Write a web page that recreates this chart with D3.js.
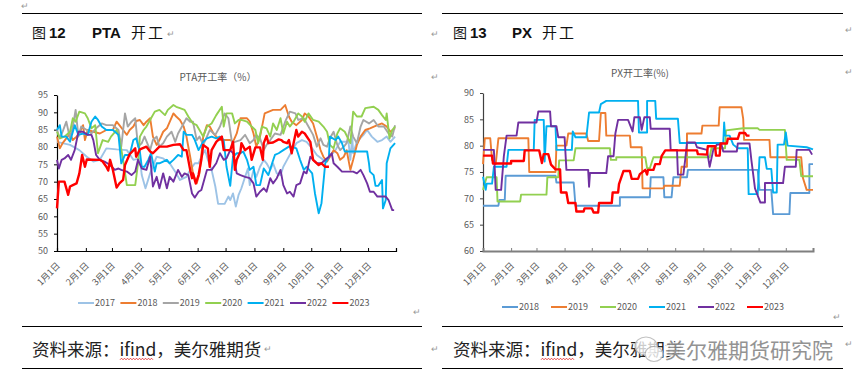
<!DOCTYPE html>
<html><head><meta charset="utf-8">
<script src="https://cdn.jsdelivr.net/npm/d3@7"></script>
<style>
body{margin:0;background:#fff}
svg{display:block}
text{font-family:"Noto Sans CJK SC","Liberation Sans",sans-serif}
</style></head><body>
<script>
// ── Data ─────────────────────────────────────────────────────────────────────
// x = day of year (0 = 1月1日), y = operating rate %
const monthStarts = [0,31,59,90,120,151,181,212,243,273,304,334];
const monthLabels = ['1月1日','2月1日','3月1日','4月1日','5月1日','6月1日','7月1日','8月1日','9月1日','10月1日','11月1日','12月1日'];

const pta2017 = [[0,81.5],[14,80.6],[24,79.1],[32,77.2],[39,75.8],[46,76.3],[53,79.6],[64,79.3],[75,79.1],[82,76.3],[89,76.7],[91,71.9],[95,68.1],[100,72.4],[107,77.2],[114,76.7],[121,75.3],[128,72.4],[132,70.5],[139,71.4],[143,73.4],[148,75.3],[152,75.3],[155,77.2],[159,79.1],[162,76.3],[166,73.4],[170,68.6],[173,63.6],[180,63.6],[184,65.7],[186,64.7],[189,66.6],[192,62.8],[195,66.2],[198,68.1],[202,71.4],[205,73.8],[207,69.0],[211,73.4],[214,71.4],[218,74.3],[222,76.3],[225,75.3],[229,73.4],[232,75.3],[236,72.4],[240,71.9],[243,74.3],[247,76.3],[252,78.7],[257,81.1],[263,82.0],[268,81.5],[274,79.6],[279,77.7],[284,76.7],[288,75.8],[293,77.2],[299,79.1],[304,81.5],[313,81.5],[315,76.3],[317,83.0],[318,78.2],[322,81.5],[329,83.5],[333,84.9],[338,83.0],[344,81.5],[349,82.0],[354,83.0],[358,81.5],[363,83.0]];
const pta2018 = [[0,83.0],[3,79.6],[6,81.1],[10,82.5],[14,83.9],[17,82.0],[21,83.0],[24,83.9],[28,86.3],[30,82.0],[33,84.9],[39,84.4],[46,83.9],[53,84.9],[60,84.9],[64,87.3],[67,86.3],[71,84.9],[75,83.5],[78,84.9],[82,85.9],[85,87.5],[89,87.8],[93,86.3],[96,87.3],[100,88.3],[103,83.0],[107,80.6],[110,82.0],[114,84.4],[118,85.4],[125,89.7],[128,88.8],[132,87.8],[136,85.9],[139,83.0],[143,77.2],[146,72.4],[150,69.5],[153,72.4],[157,83.0],[161,86.3],[164,85.9],[168,83.9],[171,83.0],[175,82.0],[180,82.0],[186,82.0],[189,81.5],[193,83.9],[197,88.3],[204,88.3],[207,87.3],[211,83.9],[214,80.1],[218,83.0],[223,89.7],[232,90.7],[240,90.7],[245,92.1],[249,88.8],[252,87.3],[257,86.3],[263,87.8],[266,89.7],[270,88.8],[275,86.8],[279,83.0],[283,79.1],[286,77.2],[290,75.8],[293,77.2],[297,79.1],[301,78.2],[304,76.3],[308,77.2],[311,79.1],[315,73.4],[318,76.3],[322,80.6],[326,83.0],[331,84.9],[336,85.4],[344,86.3],[349,86.8],[354,85.9],[358,84.4],[363,85.4]];
const pta2019 = [[0,84.9],[3,82.5],[6,84.4],[10,87.3],[14,82.5],[17,85.9],[20,90.7],[23,83.0],[26,85.9],[32,84.9],[37,83.9],[42,85.4],[48,86.8],[53,86.3],[60,86.3],[66,84.9],[69,80.1],[73,89.7],[76,85.9],[80,87.3],[84,88.3],[87,80.1],[91,81.1],[94,83.0],[100,79.1],[103,82.0],[107,83.0],[110,80.1],[114,81.1],[118,83.0],[123,84.4],[127,81.5],[130,83.9],[136,86.8],[139,88.3],[143,87.3],[146,87.3],[150,82.0],[153,83.0],[157,80.6],[161,83.0],[164,84.9],[170,83.5],[175,85.9],[180,89.7],[184,88.3],[188,81.1],[191,81.5],[197,82.0],[202,83.5],[207,81.1],[211,82.0],[214,83.5],[218,82.5],[222,79.1],[225,80.6],[229,82.0],[234,83.9],[240,83.5],[245,87.3],[250,90.2],[256,89.7],[259,87.8],[265,88.3],[270,85.9],[275,83.5],[279,80.1],[283,82.5],[286,80.6],[290,80.1],[293,82.5],[297,84.4],[301,80.6],[304,79.1],[308,80.1],[311,81.1],[315,85.9],[318,83.0],[322,81.1],[326,85.9],[329,87.8],[335,86.8],[340,87.8],[345,85.9],[351,85.9],[356,83.9],[360,83.0],[363,86.3]];
const pta2020 = [[0,84.4],[3,82.5],[8,83.0],[14,84.4],[17,88.3],[20,87.3],[24,90.2],[30,89.7],[33,88.3],[37,85.4],[41,86.3],[44,78.2],[49,82.0],[55,81.5],[58,83.0],[64,84.9],[67,82.5],[71,76.3],[75,69.0],[84,69.0],[87,75.3],[89,83.0],[93,84.9],[96,85.9],[101,88.3],[105,90.2],[110,90.7],[116,89.2],[119,90.7],[125,92.1],[128,91.6],[132,91.2],[137,90.7],[141,88.8],[146,86.8],[150,86.3],[153,84.9],[157,83.0],[161,85.9],[166,86.8],[171,89.2],[177,91.6],[179,85.9],[182,89.7],[188,89.7],[191,86.8],[195,87.8],[198,87.8],[204,87.3],[209,85.9],[213,84.9],[216,81.1],[220,85.9],[225,85.4],[229,83.0],[232,86.8],[236,84.9],[240,88.3],[243,83.9],[247,87.3],[250,85.9],[254,87.3],[259,89.7],[263,88.8],[266,87.3],[270,89.7],[275,87.8],[281,87.3],[286,85.9],[290,84.4],[293,80.6],[297,79.6],[301,83.9],[304,85.4],[309,84.4],[315,81.1],[318,90.2],[322,88.8],[327,88.8],[331,91.2],[340,91.6],[345,90.7],[349,89.2],[353,87.8],[354,89.7],[357,82.5],[360,84.9],[363,85.9]];
const pta2021 = [[0,84.9],[3,86.3],[5,83.0],[10,83.0],[14,81.5],[19,86.3],[23,83.5],[28,83.9],[33,83.5],[37,87.3],[41,88.8],[44,87.8],[48,85.9],[53,84.9],[60,84.9],[66,83.5],[69,75.3],[73,77.7],[78,77.7],[82,82.0],[85,82.5],[89,78.7],[91,74.3],[94,74.3],[98,76.3],[101,78.2],[105,72.9],[107,75.3],[110,75.3],[118,76.3],[121,75.3],[125,76.3],[130,77.7],[134,77.2],[136,84.4],[139,83.5],[145,83.5],[148,82.0],[152,79.1],[157,81.5],[161,82.5],[166,83.0],[171,82.5],[175,83.0],[179,82.0],[182,74.3],[186,68.8],[189,77.2],[193,78.2],[197,78.2],[200,78.7],[204,76.3],[207,73.4],[211,74.3],[214,69.0],[218,69.0],[222,73.8],[227,71.9],[231,75.3],[234,77.7],[238,78.2],[243,79.1],[249,80.1],[252,80.1],[257,79.6],[261,76.3],[265,73.4],[268,74.3],[274,72.4],[277,66.6],[281,60.9],[284,63.8],[288,75.3],[292,77.2],[293,83.0],[299,82.0],[302,83.0],[306,81.1],[309,78.7],[315,78.7],[333,78.7],[335,75.3],[336,72.9],[340,71.9],[342,68.8],[345,68.8],[349,70.5],[350,62.3],[353,64.7],[354,75.3],[358,79.6],[363,81.1]];
const pta2022 = [[0,76.3],[2,73.8],[5,76.3],[8,76.7],[12,77.7],[15,76.3],[19,79.1],[23,84.4],[28,84.4],[33,83.5],[37,83.5],[39,82.0],[42,77.7],[46,76.3],[51,75.8],[57,74.8],[62,73.4],[66,73.8],[69,73.4],[75,72.9],[80,71.9],[84,72.9],[87,76.3],[91,73.8],[96,73.4],[100,77.2],[103,68.6],[107,71.4],[110,68.1],[114,72.4],[118,68.1],[121,71.4],[125,70.0],[130,73.4],[134,71.4],[137,72.4],[141,71.9],[145,66.6],[148,65.4],[152,67.1],[155,67.6],[161,73.4],[166,73.4],[171,75.3],[175,78.2],[179,76.3],[182,76.7],[186,79.1],[189,78.2],[193,72.4],[197,71.9],[202,71.4],[207,71.0],[211,69.5],[214,65.7],[218,67.1],[222,68.1],[225,67.1],[229,71.0],[232,69.5],[236,71.0],[240,73.4],[243,69.0],[247,66.6],[250,67.1],[254,65.7],[257,69.0],[261,69.5],[265,72.9],[268,72.4],[272,77.2],[275,76.3],[279,75.3],[284,75.3],[288,76.3],[292,77.2],[295,78.2],[297,75.3],[301,74.3],[306,72.9],[313,72.9],[318,72.9],[322,72.4],[326,73.4],[329,71.9],[333,69.5],[336,67.1],[340,67.1],[344,65.7],[347,65.7],[353,65.7],[356,64.7],[360,61.8],[362,61.8]];
const pta2023 = [[0,62.3],[2,70.0],[8,70.0],[12,66.2],[14,68.6],[17,69.0],[21,69.5],[24,72.4],[27,77.7],[30,74.3],[32,76.4],[46,76.3],[49,75.8],[53,74.3],[55,73.2],[57,76.3],[60,73.4],[64,68.3],[67,69.5],[71,70.5],[73,74.8],[78,77.9],[84,79.6],[85,77.2],[89,79.3],[96,80.1],[100,78.7],[103,78.2],[110,80.1],[118,80.1],[125,80.6],[132,80.8],[136,79.1],[139,79.1],[143,73.4],[145,71.0],[146,72.4],[149,69.5],[152,71.9],[155,76.3],[157,80.6],[162,79.6],[164,74.3],[166,79.1],[171,81.5],[177,83.0],[179,79.1],[186,79.1],[189,81.5],[191,73.4],[193,76.3],[197,78.7],[198,81.1],[202,79.1],[207,80.1],[209,76.3],[213,79.9],[218,79.9],[221,76.3],[222,81.1],[225,83.2],[227,81.1],[232,81.3],[238,82.2],[241,82.0],[243,81.5],[247,81.1],[249,82.0],[252,78.2],[254,81.1],[257,84.9],[259,83.0],[263,84.4],[266,83.9],[272,81.5],[275,76.3],[281,74.8],[284,75.3],[288,74.3],[292,74.3]];

const px2018 = [[0,68.6],[17,68.6],[18,69.7],[24,69.7],[25,74.3],[80,74.3],[81,73.0],[100,73.0],[102,68.6],[151,68.6],[151,70.2],[184,70.2],[185,74.0],[199,74.0],[200,70.2],[208,70.2],[210,74.0],[225,74.0],[226,75.4],[303,75.4],[305,71.6],[318,71.6],[320,67.0],[338,67.0],[339,71.0],[360,71.0],[360,76.5],[364,76.5]];
const px2019 = [[0,76.5],[2,81.4],[8,81.4],[10,77.3],[14,76.5],[17,81.4],[50,81.4],[51,75.0],[80,75.0],[81,80.0],[92,80.0],[94,82.3],[114,82.3],[116,80.9],[128,80.9],[130,86.2],[135,86.2],[136,81.9],[162,81.9],[163,79.7],[175,79.7],[176,71.9],[199,71.9],[200,72.4],[217,72.4],[219,76.0],[225,76.0],[225,82.3],[241,82.3],[242,83.8],[260,83.8],[261,87.3],[285,87.3],[287,85.1],[288,81.1],[316,81.1],[317,77.8],[351,77.8],[353,73.8],[357,71.6],[364,71.6]];
const px2020 = [[0,71.6],[4,74.0],[15,74.0],[16,69.4],[41,69.4],[42,70.7],[70,70.7],[71,74.0],[83,74.0],[84,77.2],[100,77.2],[102,79.5],[140,79.5],[141,77.3],[147,77.3],[147,77.8],[179,77.8],[181,75.7],[184,75.7],[188,77.8],[250,77.8],[252,79.5],[267,79.5],[268,82.9],[287,83.3],[303,83.3],[305,83.0],[333,83.0],[335,77.3],[349,77.3],[351,74.2],[364,74.2]];
const px2021 = [[0,74.1],[3,71.6],[4,72.8],[10,72.8],[12,76.0],[26,76.0],[28,79.2],[56,79.2],[57,84.9],[67,84.9],[68,77.0],[70,83.7],[80,83.7],[81,79.2],[98,79.2],[99,82.7],[102,81.6],[114,81.6],[117,86.3],[128,86.3],[130,87.9],[136,88.5],[171,88.5],[172,82.5],[181,82.5],[181,88.5],[190,88.5],[191,85.1],[215,85.1],[217,80.5],[265,80.5],[266,84.4],[267,81.9],[272,81.9],[276,80.2],[281,79.5],[292,79.5],[293,70.8],[303,70.8],[305,77.8],[311,77.8],[313,75.6],[318,75.6],[320,71.1],[324,71.1],[325,80.2],[332,80.2],[334,82.5],[336,80.0],[357,79.7],[364,79.3]];
const px2022 = [[0,79.2],[12,79.2],[14,71.6],[20,71.6],[23,78.0],[26,81.9],[37,81.9],[39,84.4],[59,84.4],[61,86.5],[74,86.5],[75,83.7],[81,83.7],[83,81.6],[90,81.6],[92,75.4],[116,75.4],[117,72.2],[118,74.8],[136,74.8],[138,78.0],[144,78.0],[146,82.3],[149,84.9],[160,84.9],[165,82.7],[167,85.4],[173,85.4],[175,83.0],[178,85.4],[184,85.4],[185,83.2],[206,83.2],[207,79.2],[214,79.2],[215,74.5],[221,74.5],[223,77.3],[225,80.6],[234,80.6],[236,79.7],[247,79.2],[250,76.0],[254,79.2],[258,80.2],[263,80.2],[265,78.9],[280,78.9],[281,80.4],[294,80.4],[296,77.3],[300,71.9],[306,69.2],[311,69.2],[311,72.9],[331,72.9],[333,76.0],[345,76.0],[346,79.2],[360,79.2],[363,78.3]];
const px2023 = [[0,78.1],[10,78.1],[11,76.6],[31,76.6],[31,77.1],[45,77.1],[46,79.1],[62,79.1],[65,76.7],[67,78.4],[72,78.4],[75,76.4],[80,75.5],[85,75.5],[86,71.1],[92,71.1],[94,69.1],[102,69.1],[103,67.5],[111,67.5],[112,68.1],[120,68.1],[122,67.3],[127,67.3],[128,69.1],[142,69.1],[143,71.1],[149,71.1],[150,72.7],[155,75.2],[162,75.2],[164,73.7],[171,73.7],[173,74.6],[179,75.4],[181,74.5],[182,75.4],[188,75.4],[190,76.5],[195,76.5],[197,78.0],[201,79.1],[236,79.1],[237,78.4],[247,78.3],[248,79.9],[256,79.9],[257,78.1],[261,78.1],[262,80.4],[269,80.4],[270,81.3],[281,81.3],[283,82.4],[289,82.4],[291,81.9],[294,81.9]];

const ptaYears = ['2017','2018','2019','2020','2021','2022','2023'];
const pxYears  = ['2018','2019','2020','2021','2022','2023'];
const ptaTicks = [50,55,60,65,70,75,80,85,90,95];
const pxTicks  = [60,65,70,75,80,85,90];

// ── Colours ──────────────────────────────────────────────────────────────────
const PTA_COLORS = ['#9DC3E6','#ED7D31','#A5A5A5','#92D050','#00B0F0','#7030A0','#FF0000'];
const PX_COLORS  = ['#5B9BD5','#ED7D31','#92D050','#00B0F0','#7030A0','#FF0000'];
const LABEL_GRAY = '#595959';

const svg = d3.select('body').append('svg').attr('width', 863).attr('height', 388);

// ── Page frame (document lines, captions, paragraph marks) ───────────────────
function hline(x1, x2, y) {
  svg.append('line').attr('x1', x1).attr('x2', x2).attr('y1', y).attr('y2', y)
    .attr('stroke', '#000').attr('stroke-width', 1);
}
[[22, 422], [442, 843]].forEach(([a, b]) => { hline(a, b, 13.5); hline(a, b, 55.5); hline(a, b, 326.5); hline(a, b, 368.5); });

function mark(x, y) {
  svg.append('text').attr('x', x).attr('y', y).attr('font-size', 9).attr('fill', '#999')
    .attr('font-family', 'DejaVu Sans').text('\u21B5');
}

// caption pieces placed where the reference has them
function caption(x, num, name, nameDx, kaiDx) {
  const t = svg.append('text').attr('y', 38).attr('font-size', 15).attr('fill', '#111');
  t.append('tspan').attr('x', x).attr('font-size', 14).text('图');
  t.append('tspan').attr('x', x + 17).attr('font-family', 'Liberation Sans').attr('font-weight', 'bold').text(num);
  t.append('tspan').attr('x', x + nameDx).attr('font-family', 'Liberation Sans').attr('font-weight', 'bold').text(name);
  t.append('tspan').attr('x', x + kaiDx).attr('letter-spacing', 2).text('开工');
}
caption(32, '12', 'PTA', 60, 99);
caption(453, '13', 'PX', 59, 89);
mark(21, 9); mark(167, 37); mark(431, 37); mark(845, 33);
mark(431, 80); mark(845, 75); mark(413, 315); mark(833, 320);

function source(x) {
  svg.append('text').attr('x', x).attr('y', 356).attr('font-size', 17.5).attr('fill', '#222')
    .text('资料来源：ifind，美尔雅期货');
  // red spell-check squiggle under "ifind"
  const x0 = x + 88, x1 = x + 122;
  const pts = d3.range(x0, x1 + 0.1, 1.5).map((px, i) => [px, 359 + (i % 2 ? -0.8 : 0.8)]);
  svg.append('path').attr('d', d3.line()(pts)).attr('fill', 'none').attr('stroke', '#e02020').attr('stroke-width', 0.8);
}
source(32);
source(453);
mark(264, 352); mark(431, 352); mark(845, 347);

// WeChat watermark over the right source line
const wm = svg.append('g').attr('opacity', 0.9);
wm.append('ellipse').attr('cx', 646).attr('cy', 346).attr('rx', 11).attr('ry', 9)
  .attr('fill', 'rgba(255,255,255,0.85)').attr('stroke', '#bbb').attr('stroke-width', 1.2);
wm.append('ellipse').attr('cx', 654).attr('cy', 354).attr('rx', 9).attr('ry', 7.5)
  .attr('fill', 'rgba(255,255,255,0.9)').attr('stroke', '#bbb').attr('stroke-width', 1.2);
wm.append('text').attr('x', 665).attr('y', 358).attr('font-size', 21).attr('fill', '#888')
  .attr('stroke', '#fff').attr('stroke-width', 2.5).attr('paint-order', 'stroke').text('美尔雅期货研究院');

// ── Chart builder ────────────────────────────────────────────────────────────
function drawChart(cfg) {
  const g = svg.append('g');
  const x = d3.scaleLinear().domain([0, 364]).range([cfg.left, cfg.right]);
  const y = d3.scaleLinear().domain(cfg.yDomain).range([cfg.bottom, cfg.top]);

  g.append('text').attr('x', cfg.titleX).attr('y', cfg.titleY).attr('text-anchor', 'middle')
    .attr('font-size', 10).attr('fill', LABEL_GRAY).text(cfg.title);

  // y axis
  const ya = g.append('g').attr('transform', `translate(${cfg.left},0)`)
    .call(d3.axisLeft(y).tickValues(cfg.yTicks).tickSize(3).tickSizeOuter(0).tickPadding(6));
  ya.select('.domain').attr('stroke', cfg.yAxisColor).attr('stroke-width', 1.2);
  ya.selectAll('line').attr('stroke', cfg.yAxisColor);
  ya.selectAll('text').attr('font-size', 9).attr('fill', LABEL_GRAY)
    .attr('font-family', '"Noto Sans CJK SC", sans-serif');

  // series
  const line = d3.line().x(d => x(d[0])).y(d => y(d[1]));
  cfg.series.forEach((s, i) => {
    g.append('path').datum(s).attr('d', line).attr('fill', 'none')
      .attr('stroke', cfg.colors[i]).attr('stroke-width', i === cfg.series.length - 1 ? 2.4 : 1.9)
      .attr('stroke-linejoin', 'round');
  });

  // x axis
  const xa = g.append('g').attr('transform', `translate(0,${cfg.bottom})`)
    .call(d3.axisBottom(x).tickValues(monthStarts).tickSize(-3).tickSizeOuter(-3)
      .tickFormat((d, i) => monthLabels[i]));
  xa.select('.domain').attr('stroke', cfg.xAxisColor).attr('stroke-width', cfg.xAxisWidth);
  xa.selectAll('line').attr('stroke', cfg.xAxisColor);
  xa.selectAll('text').attr('font-size', 9).attr('fill', LABEL_GRAY)
    .attr('font-family', '"Noto Sans CJK SC", sans-serif')
    .attr('text-anchor', 'end').attr('y', 0).attr('dy', '0.35em')
    .attr('transform', 'translate(1,13) rotate(-45)');

  // legend
  const lg = g.append('g');
  cfg.years.forEach((yr, i) => {
    const lx = cfg.legendX + i * cfg.legendStep;
    lg.append('line').attr('x1', lx).attr('x2', lx + 16).attr('y1', cfg.legendY).attr('y2', cfg.legendY)
      .attr('stroke', cfg.colors[i]).attr('stroke-width', 2);
    lg.append('text').attr('x', lx + 17).attr('y', cfg.legendY).attr('dy', '0.35em')
      .attr('font-size', 9).attr('fill', LABEL_GRAY).text(yr);
  });
}

drawChart({
  left: 57, right: 396, top: 95, bottom: 251, yDomain: [50, 95], yTicks: ptaTicks,
  series: [pta2017, pta2018, pta2019, pta2020, pta2021, pta2022, pta2023],
  colors: PTA_COLORS, years: ptaYears,
  title: 'PTA开工率（%）', titleX: 218, titleY: 81,
  yAxisColor: '#000', xAxisColor: '#000', xAxisWidth: 1.2,
  legendX: 78, legendStep: 42.4, legendY: 303,
});

drawChart({
  left: 483, right: 813, top: 93, bottom: 251, yDomain: [60, 90], yTicks: pxTicks,
  series: [px2018, px2019, px2020, px2021, px2022, px2023],
  colors: PX_COLORS, years: pxYears,
  title: 'PX开工率(%)', titleX: 640, titleY: 77,
  yAxisColor: '#404040', xAxisColor: '#7f7f7f', xAxisWidth: 2,
  legendX: 502, legendStep: 49, legendY: 307,
});
</script>
</body></html>
